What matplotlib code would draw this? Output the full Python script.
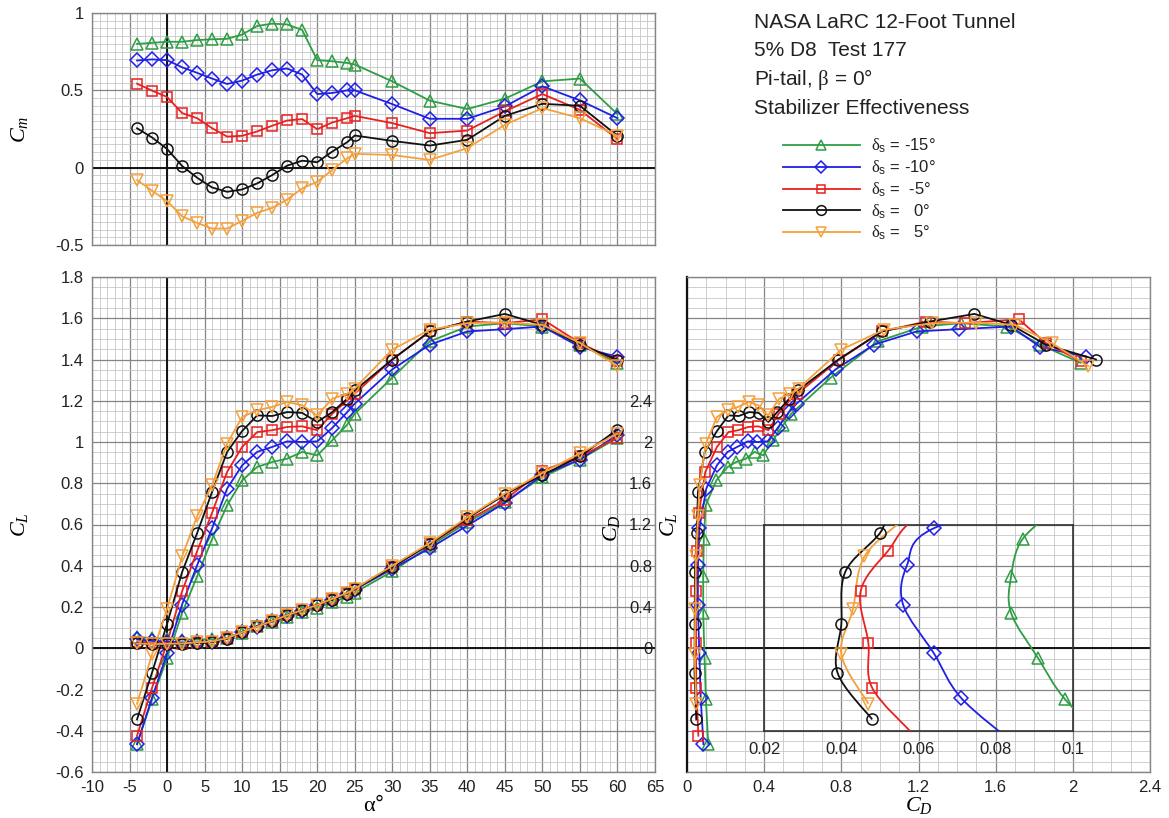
import numpy as np
import matplotlib
matplotlib.use("Agg")
import matplotlib.pyplot as plt
from matplotlib.ticker import MultipleLocator, FuncFormatter
from matplotlib.path import Path
from matplotlib.patches import PathPatch
from matplotlib.lines import Line2D

plt.rcParams['font.family'] = ['Liberation Sans', 'DejaVu Sans']
plt.rcParams['mathtext.fontset'] = 'custom'
plt.rcParams['mathtext.rm'] = 'Liberation Serif'
plt.rcParams['mathtext.it'] = 'Liberation Serif:italic'
plt.rcParams['mathtext.sf'] = 'Liberation Sans'

# ---------------- data ----------------
alpha = [-4, -2, 0, 2, 4, 6, 8, 10, 12, 14, 16, 18, 20, 22, 24, 25, 30, 35, 40, 45, 50, 55, 60]

stab_labels = ["-15°", "-10°", " -5°", "  0°", "  5°"]

cm_m15 = [0.800, 0.807, 0.814, 0.814, 0.825, 0.830, 0.833, 0.861, 0.916, 0.931, 0.926, 0.890,
          0.695, 0.688, 0.677, 0.667, 0.558, 0.433, 0.379, 0.446, 0.558, 0.576, 0.346]
cm_m10 = [0.693, 0.700, 0.695, 0.649, 0.613, 0.576, 0.541, 0.563, 0.602, 0.630, 0.641, 0.602,
          0.476, 0.483, 0.500, 0.500, 0.411, 0.316, 0.316, 0.396, 0.526, 0.435, 0.320]
cm_m5 = [0.543, 0.498, 0.457, 0.353, 0.320, 0.255, 0.201, 0.206, 0.234, 0.271, 0.305, 0.314,
         0.249, 0.292, 0.320, 0.335, 0.288, 0.223, 0.240, 0.364, 0.476, 0.374, 0.184]
cm_0 = [0.255, 0.195, 0.121, 0.011, -0.065, -0.128, -0.156, -0.141, -0.102, -0.048, 0.013, 0.045,
        0.035, 0.104, 0.165, 0.208, 0.173, 0.143, 0.180, 0.335, 0.413, 0.400, 0.206]
cm_p5 = [-0.080, -0.149, -0.216, -0.314, -0.357, -0.394, -0.394, -0.344, -0.292, -0.260, -0.206, -0.134,
         -0.091, -0.015, 0.061, 0.089, 0.082, 0.050, 0.126, 0.277, 0.385, 0.320, 0.206]

cl_m15 = [-0.465, -0.248, -0.048, 0.171, 0.348, 0.530, 0.693, 0.814, 0.879, 0.903, 0.919, 0.952,
          0.935, 1.008, 1.084, 1.137, 1.312, 1.488, 1.560, 1.576, 1.560, 1.472, 1.384]
cl_m10 = [-0.465, -0.240, -0.025, 0.212, 0.402, 0.582, 0.774, 0.887, 0.952, 0.976, 1.003, 1.000,
          1.003, 1.068, 1.145, 1.186, 1.352, 1.472, 1.536, 1.547, 1.560, 1.461, 1.413]
cl_m5 = [-0.424, -0.192, 0.027, 0.276, 0.470, 0.657, 0.855, 0.976, 1.048, 1.057, 1.073, 1.076,
         1.057, 1.137, 1.202, 1.234, 1.400, 1.536, 1.584, 1.576, 1.595, 1.480, 1.392]
cl_0 = [-0.345, -0.118, 0.118, 0.369, 0.558, 0.758, 0.952, 1.053, 1.129, 1.126, 1.145, 1.141,
        1.097, 1.145, 1.210, 1.250, 1.400, 1.536, 1.584, 1.621, 1.568, 1.472, 1.400]
cl_p5 = [-0.269, -0.030, 0.190, 0.445, 0.640, 0.790, 0.992, 1.121, 1.154, 1.170, 1.194, 1.178,
         1.129, 1.210, 1.234, 1.259, 1.448, 1.544, 1.576, 1.579, 1.568, 1.480, 1.368]

cd_m15 = [0.110, 0.098, 0.091, 0.084, 0.084, 0.087, 0.097, 0.152, 0.211, 0.255, 0.305, 0.350,
          0.395, 0.445, 0.500, 0.540, 0.745, 0.990, 1.220, 1.420, 1.660, 1.830, 2.040]
cd_m10 = [0.085, 0.071, 0.064, 0.056, 0.057, 0.064, 0.100, 0.155, 0.210, 0.260, 0.315, 0.365,
          0.418, 0.470, 0.528, 0.568, 0.770, 0.970, 1.190, 1.410, 1.680, 1.830, 2.070]
cd_m5 = [0.059, 0.048, 0.047, 0.045, 0.052, 0.062, 0.095, 0.155, 0.215, 0.265, 0.318, 0.370,
         0.422, 0.475, 0.532, 0.572, 0.790, 1.010, 1.240, 1.440, 1.720, 1.860, 2.040]
cd_0 = [0.048, 0.039, 0.040, 0.041, 0.050, 0.057, 0.092, 0.155, 0.215, 0.268, 0.322, 0.372,
        0.422, 0.468, 0.530, 0.575, 0.785, 1.010, 1.260, 1.490, 1.680, 1.860, 2.120]
cd_p5 = [0.047, 0.040, 0.043, 0.046, 0.057, 0.065, 0.098, 0.155, 0.210, 0.265, 0.320, 0.370,
         0.420, 0.478, 0.535, 0.578, 0.800, 1.020, 1.270, 1.500, 1.700, 1.890, 2.080]

# low-alpha range shown in the magnified drag inset
inset_count = 7  # alpha = -4 ... 8

colors = ['#2e9e44', '#1f1fe6', '#e8201f', '#111111', '#f5a03a']
markers = ['^', 'D', 's', 'o', 'v']
msizes = [8, 7, 7, 8, 8]

series = [
    dict(cm=cm_m15, cl=cl_m15, cd=cd_m15),
    dict(cm=cm_m10, cl=cl_m10, cd=cd_m10),
    dict(cm=cm_m5, cl=cl_m5, cd=cd_m5),
    dict(cm=cm_0, cl=cl_0, cd=cd_0),
    dict(cm=cm_p5, cl=cl_p5, cd=cd_p5),
]

# ---------------- figure ----------------
W, H = 1169, 818
fig = plt.figure(figsize=(W / 100, H / 100), dpi=100)


def px_axes(l, t, r, b):
    return fig.add_axes([l / W, 1 - b / H, (r - l) / W, (b - t) / H])


MAJ = '#858585'
MIN = '#c6c6c6'
TICK_FS = 12


def trim(v, pos=None):
    s = f"{v:.2f}".rstrip('0').rstrip('.')
    if s == '-0':
        s = '0'
    return s


def style_grid(ax, xmaj, xmin, ymaj, ymin):
    ax.xaxis.set_major_locator(MultipleLocator(xmaj))
    ax.xaxis.set_minor_locator(MultipleLocator(xmin))
    ax.yaxis.set_major_locator(MultipleLocator(ymaj))
    ax.yaxis.set_minor_locator(MultipleLocator(ymin))
    ax.grid(which='major', color=MAJ, lw=0.9)
    ax.grid(which='minor', color=MIN, lw=0.6)
    ax.set_axisbelow(True)
    ax.tick_params(which='both', length=0, labelsize=TICK_FS, pad=6, colors='#222222')
    for s in ax.spines.values():
        s.set_color(MAJ)
        s.set_linewidth(1.0)
    ax.xaxis.set_major_formatter(FuncFormatter(trim))
    ax.yaxis.set_major_formatter(FuncFormatter(trim))


# ---- pitching moment ----
axm = px_axes(92, 13, 655, 245)
axm.set_xlim(-10, 65)
axm.set_ylim(-0.5, 1.0)
style_grid(axm, 5, 1, 0.5, 0.05)
axm.tick_params(labelbottom=False)
axm.axhline(0, color='#111111', lw=1.4, zorder=1.5)
axm.axvline(0, color='#111111', lw=1.4, zorder=1.5)
for s, c, m, ms in zip(series, colors, markers, msizes):
    axm.plot(alpha, s['cm'], color=c, lw=1.3, marker=m, ms=ms, mfc='none', mew=1.1, zorder=3)
axm.set_ylabel('$C_m$', fontsize=16, labelpad=18)

# ---- lift and drag vs alpha ----
axl = px_axes(92, 277, 655, 772)
axl.set_xlim(-10, 65)
axl.set_ylim(-0.6, 1.8)
style_grid(axl, 5, 1, 0.2, 0.05)
axl.axhline(0, color='#111111', lw=1.4, zorder=1.5)
axl.axvline(0, color='#111111', lw=1.4, zorder=1.5)
axd = axl.twinx()
axd.set_ylim(-1.2, 3.6)
axd.set_yticks([0, 0.4, 0.8, 1.2, 1.6, 2.0, 2.4])
axd.yaxis.set_major_formatter(FuncFormatter(trim))
axd.tick_params(length=0, labelsize=TICK_FS, pad=-2, colors='#222222')
for lab in axd.get_yticklabels():
    lab.set_horizontalalignment('right')
for sp in axd.spines.values():
    sp.set_visible(False)
for s, c, m, ms in zip(series, colors, markers, msizes):
    axl.plot(alpha, s['cl'], color=c, lw=1.3, marker=m, ms=ms, mfc='none', mew=1.1, zorder=3)
    axd.plot(alpha, s['cd'], color=c, lw=1.3, marker=m, ms=ms, mfc='none', mew=1.1, zorder=3)
axl.set_ylabel('$C_L$', fontsize=16, labelpad=18)
axl.set_xlabel(r'$\mathrm{\alpha}$°', fontsize=16, labelpad=0)
fig.text(612 / W, 1 - 528 / H, '$C_D$', fontsize=16, rotation=90, ha='center', va='center')

# ---- drag polar ----
axp = px_axes(687, 277, 1150, 772)
axp.set_xlim(0, 2.4)
axp.set_ylim(-0.6, 1.8)
style_grid(axp, 0.4, 0.1, 0.2, 0.05)
axp.tick_params(labelleft=False)
axp.spines['left'].set_color('#111111')
axp.spines['left'].set_linewidth(1.6)
axp.axhline(0, color='#111111', lw=1.4, zorder=1.5)
for s, c, m, ms in zip(series, colors, markers, msizes):
    axp.plot(s['cd'], s['cl'], color=c, lw=1.3, marker=m, ms=ms, mfc='none', mew=1.1, zorder=3)
axp.set_xlabel('$C_D$', fontsize=16, labelpad=0)
axp.set_ylabel('$C_L$', fontsize=16, labelpad=0)

# magnified low-drag inset, sharing the lift scale of the polar
axi = axp.inset_axes([0.4, -0.4, 1.6, 1.0], transform=axp.transData)
axi.set_xlim(0.02, 0.1)
axi.set_ylim(-0.4, 0.6)
axi.patch.set_alpha(0)
for sp in axi.spines.values():
    sp.set_color('#333333')
    sp.set_linewidth(1.2)
axi.set_xticks([0.02, 0.04, 0.06, 0.08, 0.1])
axi.xaxis.set_major_formatter(FuncFormatter(trim))
axi.set_yticks([])
axi.tick_params(length=0, labelsize=TICK_FS, pad=8, colors='#222222')


def smooth_path(x, y):
    pts = np.column_stack([x, y])
    n = len(pts)
    verts = [pts[0]]
    codes = [Path.MOVETO]
    for i in range(n - 1):
        p0 = pts[i - 1] if i > 0 else pts[i]
        p1, p2 = pts[i], pts[i + 1]
        p3 = pts[i + 2] if i + 2 < n else pts[i + 1]
        verts += [p1 + (p2 - p0) / 6, p2 - (p3 - p1) / 6, p2]
        codes += [Path.CURVE4] * 3
    return Path(verts, codes)


for s, c, m, ms in zip(series, colors, markers, msizes):
    cd = np.array(s['cd'][:inset_count])
    cl = np.array(s['cl'][:inset_count])
    axi.add_patch(PathPatch(smooth_path(cd, cl), fc='none', ec=c, lw=1.3, zorder=3))
    keep = (cd >= 0.02) & (cd <= 0.1) & (cl >= -0.4) & (cl <= 0.6)
    axi.plot(cd[keep], cl[keep], ls='none', marker=m, ms=ms, mfc='none', mec=c, mew=1.1,
             clip_on=False, zorder=4)

# ---- annotation block and legend ----
title_lines = ["NASA LaRC 12-Foot Tunnel", "5% D8  Test 177",
               r"Pi-tail, $\mathrm{\beta}$ = 0°", "Stabilizer Effectiveness"]
for i, t in enumerate(title_lines):
    fig.text(754 / W, 1 - (22 + 28.7 * i) / H, t, fontsize=15, ha='left', va='center',
             color='#222222')

handles = [Line2D([], [], color=c, lw=1.3, marker=m, ms=ms - 1, mfc='none', mew=1.1)
           for c, m, ms in zip(colors, markers, msizes)]
labels = [r"$\mathrm{\delta}_{\mathsf{s}}$ = " + v for v in stab_labels]
leg = fig.legend(handles, labels, loc='upper left', bbox_to_anchor=(783 / W, 1 - 137 / H),
                 frameon=False, fontsize=12, handlelength=4.6, handletextpad=0.7,
                 labelspacing=0.2, borderpad=0, borderaxespad=0)
for txt in leg.get_texts():
    txt.set_color('#222222')

fig.savefig('out.png', dpi=100)
